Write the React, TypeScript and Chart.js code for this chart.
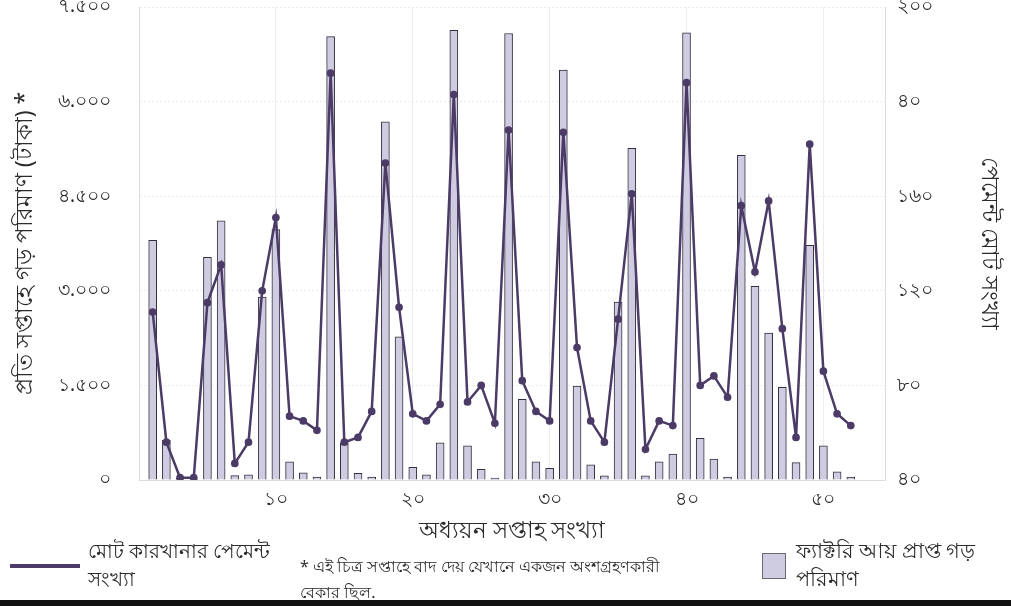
import React, { useEffect, useRef } from "react";
import { Chart, registerables } from "chart.js";

Chart.register(...registerables);

// ---- data ----
const weeks = [
  1, 2, 3, 4, 5, 6, 7, 8, 9, 10, 11, 12, 13, 14, 15, 16, 17, 18, 19, 20, 21, 22, 23, 24, 25, 26,
  27, 28, 29, 30, 31, 32, 33, 34, 35, 36, 37, 38, 39, 40, 41, 42, 43, 44, 45, 46, 47, 48, 49, 50, 51, 52,
];
const avgIncome = [
  3800, 630, 30, 20, 3530, 4110, 70, 80, 2900, 3970, 290, 115, 45, 7030, 590, 105, 45, 5680, 2270, 200,
  80, 590, 7130, 540, 170, 30, 7080, 1280, 290, 185, 6500, 1490, 240, 65, 2820, 5260, 65, 290, 410, 7090,
  660, 330, 45, 5150, 3070, 2330, 1470, 275, 3720, 540, 130, 45,
];
const paymentCount = [
  111, 56, 41, 41, 115, 131, 47, 56, 120, 151, 67, 65, 61, 212, 56, 58, 69, 174, 113, 68,
  65, 72, 203, 73, 80, 64, 188, 82, 69, 65, 187, 96, 65, 56, 108, 161, 53, 65, 63, 208,
  80, 84, 75, 156, 128, 158, 104, 58, 182, 86, 68, 63,
];
const leftTickLabels = ["০", "১.৫০০", "৩.০০০", "৪.৫০০", "৬.০০০", "৭.৫০০"];
const rightTickLabels = ["৪০", "৮০", "১২০", "১৬০", "৪০", "২০০"];
const xTickValues = [10, 20, 30, 40, 50];
const xTickLabels = ["১০", "২০", "৩০", "৪০", "৫০"];

const barLabel = "ফ্যাক্টরি আয় প্রাপ্ত গড় পরিমাণ";
const lineLabel = "মোট কারখানার পেমেন্ট সংখ্যা";
const leftTitle = "প্রতি সপ্তাহে গড় পরিমাণ (টাকা) *";
const rightTitle = "পেমেন্ট মোট সংখ্যা";
const xTitle = "অধ্যয়ন সপ্তাহ সংখ্যা";
const noteLine1 = "* এই চিত্র সপ্তাহে বাদ দেয় যেখানে একজন অংশগ্রহণকারী";
const noteLine2 = "বেকার ছিল.";

const FONT = "'Noto Sans', 'DejaVu Sans', sans-serif";
const LINE_COLOR = "#4b3b66";
const BAR_FILL = "#cfcbe1";
const BAR_BORDER = "#34303f";
const TEXT = "#2b2b2b";
const GRID = "#ececef";

const W = 1011;
const CH = 545;

export default function App() {
  const ref = useRef<HTMLCanvasElement | null>(null);

  useEffect(() => {
    document.body.style.margin = "0";
    const canvas = ref.current;
    if (!canvas) return;
    const chart = new Chart(canvas, {
      type: "bar",
      data: {
        datasets: [
          {
            type: "line",
            label: lineLabel,
            data: weeks.map((w, i) => ({ x: w, y: paymentCount[i] })),
            yAxisID: "y1",
            xAxisID: "x",
            borderColor: LINE_COLOR,
            backgroundColor: LINE_COLOR,
            borderWidth: 2.5,
            pointRadius: 2.6,
            pointBackgroundColor: LINE_COLOR,
            pointBorderColor: LINE_COLOR,
            tension: 0,
            order: 0,
          } as any,
          {
            type: "bar",
            label: barLabel,
            data: weeks.map((w, i) => ({ x: w, y: avgIncome[i] })),
            yAxisID: "y",
            xAxisID: "x",
            backgroundColor: BAR_FILL,
            borderColor: BAR_BORDER,
            borderWidth: 1,
            barThickness: 8,
            order: 1,
          } as any,
        ],
      },
      options: {
        responsive: false,
        animation: false,
        devicePixelRatio: 1,
        layout: { padding: { top: 7, left: 0, right: 0, bottom: 0 } },
        plugins: { legend: { display: false }, tooltip: { enabled: false } },
        scales: {
          x: {
            type: "linear",
            min: 0,
            max: 54.5,
            offset: false,
            afterBuildTicks: (scale: any) => {
              scale.ticks = [0, ...xTickValues].map((v) => ({ value: v }));
            },
            afterFit: (scale: any) => {
              scale.height = CH - 480;
              scale.paddingLeft = 0;
              scale.paddingRight = 0;
            },
            ticks: {
              color: TEXT,
              font: { family: FONT, size: 19 },
              padding: 8,
              maxRotation: 0,
              callback: (value: any) => {
                const idx = xTickValues.indexOf(Number(value));
                return idx >= 0 ? xTickLabels[idx] : "";
              },
            },
            grid: { color: GRID, drawTicks: false, offset: false },
            border: { color: "#dcdce0" },
            title: {
              display: true,
              text: xTitle,
              color: TEXT,
              font: { family: FONT, size: 23 },
              padding: { top: 0, bottom: 0 },
            },
          },
          y: {
            type: "linear",
            position: "left",
            min: 0,
            max: 7500,
            ticks: {
              stepSize: 1500,
              color: TEXT,
              font: { family: FONT, size: 19 },
              padding: 28,
              callback: (_v: any, i: number) => leftTickLabels[i] ?? "",
            },
            afterFit: (scale: any) => {
              scale.width = 139;
              scale.paddingTop = 0;
              scale.paddingBottom = 0;
            },
            grid: { color: GRID, drawTicks: false },
            border: { color: "#dcdce0", dash: [2, 2] },
            title: {
              display: true,
              text: leftTitle,
              color: TEXT,
              font: { family: FONT, size: 23 },
              padding: { top: 12, bottom: 0 },
            },
          },
          y1: {
            type: "linear",
            position: "right",
            min: 40,
            max: 240,
            ticks: {
              stepSize: 40,
              color: TEXT,
              font: { family: FONT, size: 19 },
              padding: 12,
              callback: (_v: any, i: number) => rightTickLabels[i] ?? "",
            },
            afterFit: (scale: any) => {
              scale.width = W - 885;
              scale.paddingTop = 0;
              scale.paddingBottom = 0;
            },
            grid: { display: false, drawTicks: false },
            border: { color: "#dcdce0" },
            title: {
              display: true,
              text: rightTitle,
              color: TEXT,
              font: { family: FONT, size: 23 },
              padding: { top: 9, bottom: 0 },
            },
          },
        },
      } as any,
    });
    return () => chart.destroy();
  }, []);

  const legendText: React.CSSProperties = {
    fontFamily: FONT,
    color: TEXT,
    fontSize: 20,
    lineHeight: "28px",
    whiteSpace: "nowrap",
  };

  return (
    <div style={{ position: "fixed", left: 0, top: 0, width: W, height: 606, background: "#fff", overflow: "hidden" }}>
      <canvas ref={ref} width={W} height={CH} style={{ display: "block", width: W, height: CH }} />
      <div style={{ position: "absolute", left: 10, top: 564, width: 70, height: 4, background: LINE_COLOR }} />
      <div style={{ ...legendText, position: "absolute", left: 88, top: 537 }}>
        <div>মোট কারখানার পেমেন্ট</div>
        <div>সংখ্যা</div>
      </div>
      <div
        style={{
          position: "absolute",
          left: 300,
          top: 553,
          fontFamily: FONT,
          color: TEXT,
          fontSize: 16,
          lineHeight: "26px",
          whiteSpace: "nowrap",
        }}
      >
        <div>{noteLine1}</div>
        <div>{noteLine2}</div>
      </div>
      <div
        style={{
          position: "absolute",
          left: 762,
          top: 553,
          width: 24,
          height: 26,
          background: BAR_FILL,
          border: "1.5px solid #6b6878",
          boxSizing: "border-box",
        }}
      />
      <div style={{ ...legendText, fontSize: 21, position: "absolute", left: 796, top: 536 }}>
        <div>ফ্যাক্টরি আয় প্রাপ্ত গড়</div>
        <div>পরিমাণ</div>
      </div>
      <div style={{ position: "absolute", left: 0, top: 600, width: W, height: 6, background: "#111" }} />
    </div>
  );
}
